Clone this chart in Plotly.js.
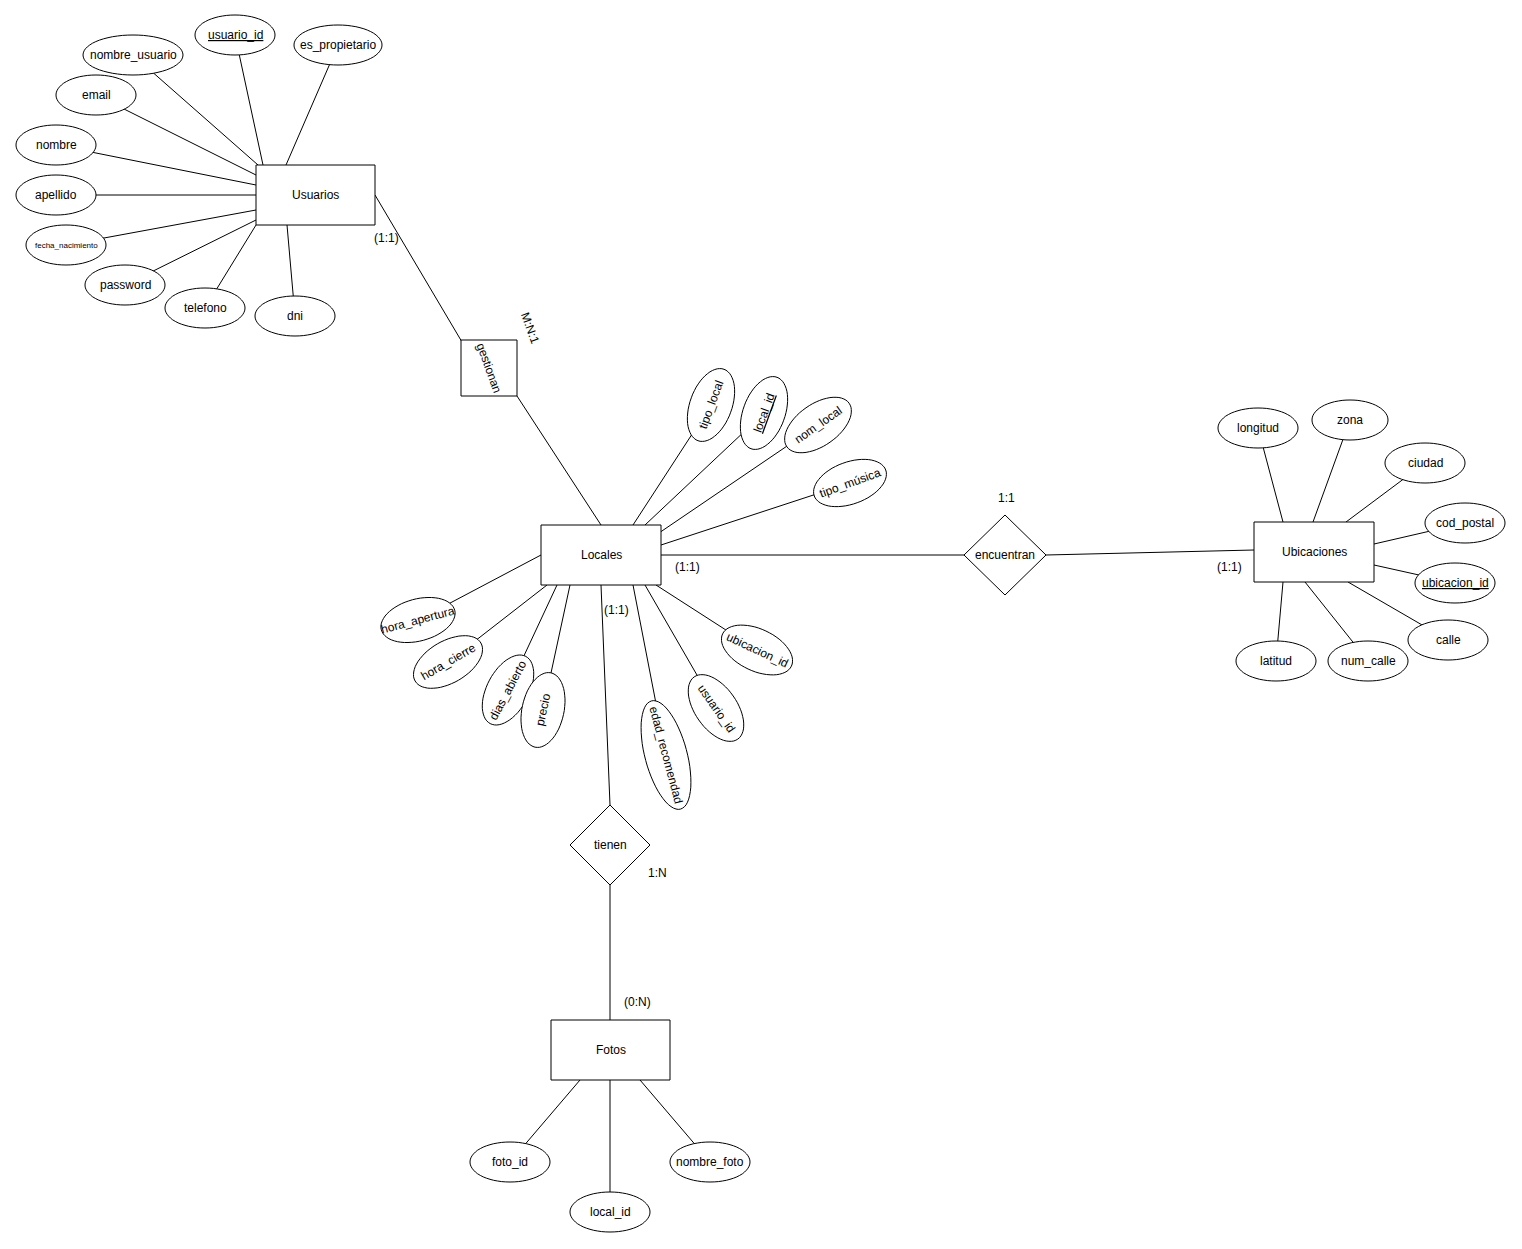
<!DOCTYPE html>
<html>
<head>
<meta charset="utf-8">
<script src="https://cdn.plot.ly/plotly-3.0.1.min.js"></script>
<style>body{margin:0;background:#fff}</style>
</head>
<body>
<div id="graph" style="width:1522px;height:1249px"></div>
<script>
// Entities: name, box [x0, y0, x1, y1]
var entityNames = ['Usuarios', 'Locales', 'Ubicaciones', 'Fotos'];
var entityBoxes = [[256,165,375,225], [541,525,661,585], [1254,522,1374,582], [551,1020,670,1080]];

// Attributes: label, centre, radii, rotation, underline, line end on entity
var attrNames = ['usuario_id','nombre_usuario','es_propietario','email','nombre','apellido','fecha_nacimiento','password','telefono','dni',
  'tipo_local','local_id','nom_local','tipo_música','hora_apertura','hora_cierre','dias_abierto','precio','edad_recomendad','usuario_id','ubicacion_id',
  'longitud','zona','ciudad','cod_postal','ubicacion_id','calle','num_calle','latitud',
  'foto_id','local_id','nombre_foto'];
var attrX = [235,133,338,96,56,56,66,125,205,295, 711,764,818,850,418,448,508,543,666,716,757, 1258,1350,1425,1465,1455,1448,1368,1276, 510,610,710];
var attrY = [35,55,45,95,145,195,245,285,308,316, 405,413,425,483,620,662,690,710,755,708,650, 428,420,463,523,583,640,661,661, 1162,1212,1162];
var attrRx = [40,50,44,40,40,40,40,40,40,40, 38,38,38,38,38,38,38,38,56,38,38, 40,38,40,40,40,40,40,40, 40,40,40];
var attrRy = [20,20,20,20,20,20,20,20,20,20, 21,21,21,21,21,21,21,21,21,21,21, 20,20,20,20,20,20,20,20, 20,20,20];
var attrAngle = [0,0,0,0,0,0,0,0,0,0, -70,-70,-35,-20,-15,-30,-62,-78,75,55,25, 0,0,0,0,0,0,0,0, 0,0,0];
var attrKey = [1,0,0,0,0,0,0,0,0,0, 0,1,0,0,0,0,0,0,0,0,0, 0,0,0,0,1,0,0,0, 0,0,0];
var attrEndX = [263,258,286,256,256,256,256,256,256,287, 633,645,656,661,541,547,557,570,633,645,656, 1283,1313,1346,1374,1374,1348,1305,1283, 580,610,640];
var attrEndY = [165,165,165,175,185,195,210,220,225,225, 525,525,535,545,555,585,585,585,585,585,585, 522,522,522,544,565,582,582,582, 1080,1080,1080];

// Relationships: diamonds [cx, cy, half width, half height], square box
var diamondNames = ['encuentran', 'tienen'];
var diamondGeom = [[1005,555,41,40], [610,845,40,40]];
var squareName = 'gestionan';
var squareBox = [461,340,517,396];

// Connecting lines [x0, y0, x1, y1]
var relLines = [[375,195,462,342], [517,396,601,525], [661,555,964,555], [1046,555,1254,550], [601,585,610,805], [610,885,610,1020]];

// Cardinality labels
var cardText = ['(1:1)','M:N:1','(1:1)','1:1','(1:1)','(1:1)','1:N','(0:N)'];
var cardX = [386,530,687,1006,1229,616,657,637];
var cardY = [238,328,567,498,567,610,873,1002];
var cardAngle = [0,70,0,0,0,0,0,0];

var shapes = [];
var ann = [];
var line = {color: '#000', width: 1};
function txt(x, y, t, size, angle) {
  ann.push({x: x, y: y, xref: 'x', yref: 'y', text: t, showarrow: false, textangle: angle || 0,
    font: {family: 'Liberation Sans, Arial, sans-serif', size: size || 12, color: '#000'}});
}

relLines.forEach(function (l) {
  shapes.push({type: 'line', x0: l[0], y0: l[1], x1: l[2], y1: l[3], line: line});
});
attrNames.forEach(function (n, i) {
  shapes.push({type: 'line', x0: attrX[i], y0: attrY[i], x1: attrEndX[i], y1: attrEndY[i], line: line});
});
attrNames.forEach(function (n, i) {
  var a = attrAngle[i] * Math.PI / 180, p = '';
  for (var k = 0; k <= 60; k++) {
    var t = k / 60 * 2 * Math.PI;
    var ex = attrRx[i] * Math.cos(t), ey = attrRy[i] * Math.sin(t);
    var px = attrX[i] + ex * Math.cos(a) - ey * Math.sin(a);
    var py = attrY[i] + ex * Math.sin(a) + ey * Math.cos(a);
    p += (k ? 'L' : 'M') + px.toFixed(1) + ',' + py.toFixed(1);
  }
  shapes.push({type: 'path', path: p + 'Z', fillcolor: '#fff', line: line});
  var label = attrKey[i] ? '<span style="text-decoration:underline">' + n + '</span>' : n;
  txt(attrX[i], attrY[i], label, n === 'fecha_nacimiento' ? 8 : 12, attrAngle[i]);
});
entityNames.forEach(function (n, i) {
  var b = entityBoxes[i];
  shapes.push({type: 'rect', x0: b[0], y0: b[1], x1: b[2], y1: b[3], fillcolor: '#fff', line: line});
  txt((b[0] + b[2]) / 2, (b[1] + b[3]) / 2, n, 12, 0);
});
diamondNames.forEach(function (n, i) {
  var d = diamondGeom[i];
  shapes.push({type: 'path', path: 'M' + (d[0] - d[2]) + ',' + d[1] + 'L' + d[0] + ',' + (d[1] - d[3]) +
    'L' + (d[0] + d[2]) + ',' + d[1] + 'L' + d[0] + ',' + (d[1] + d[3]) + 'Z', fillcolor: '#fff', line: line});
  txt(d[0], d[1], n, 12, 0);
});
shapes.push({type: 'rect', x0: squareBox[0], y0: squareBox[1], x1: squareBox[2], y1: squareBox[3], fillcolor: '#fff', line: line});
txt((squareBox[0] + squareBox[2]) / 2, (squareBox[1] + squareBox[3]) / 2, squareName, 12, 70);
cardText.forEach(function (t, i) { txt(cardX[i], cardY[i], t, 12, cardAngle[i]); });

shapes.forEach(function (s) { s.xref = 'x'; s.yref = 'y'; });

var layout = {
  width: 1522, height: 1249,
  margin: {l: 0, r: 0, t: 0, b: 0},
  paper_bgcolor: '#fff', plot_bgcolor: '#fff',
  showlegend: false,
  xaxis: {range: [0, 1522], visible: false, fixedrange: true},
  yaxis: {range: [1249, 0], visible: false, fixedrange: true},
  shapes: shapes,
  annotations: ann
};
Plotly.newPlot('graph', [{x: [0], y: [0], mode: 'markers', marker: {opacity: 0}, hoverinfo: 'skip'}], layout, {staticPlot: true});
</script>
</body>
</html>
